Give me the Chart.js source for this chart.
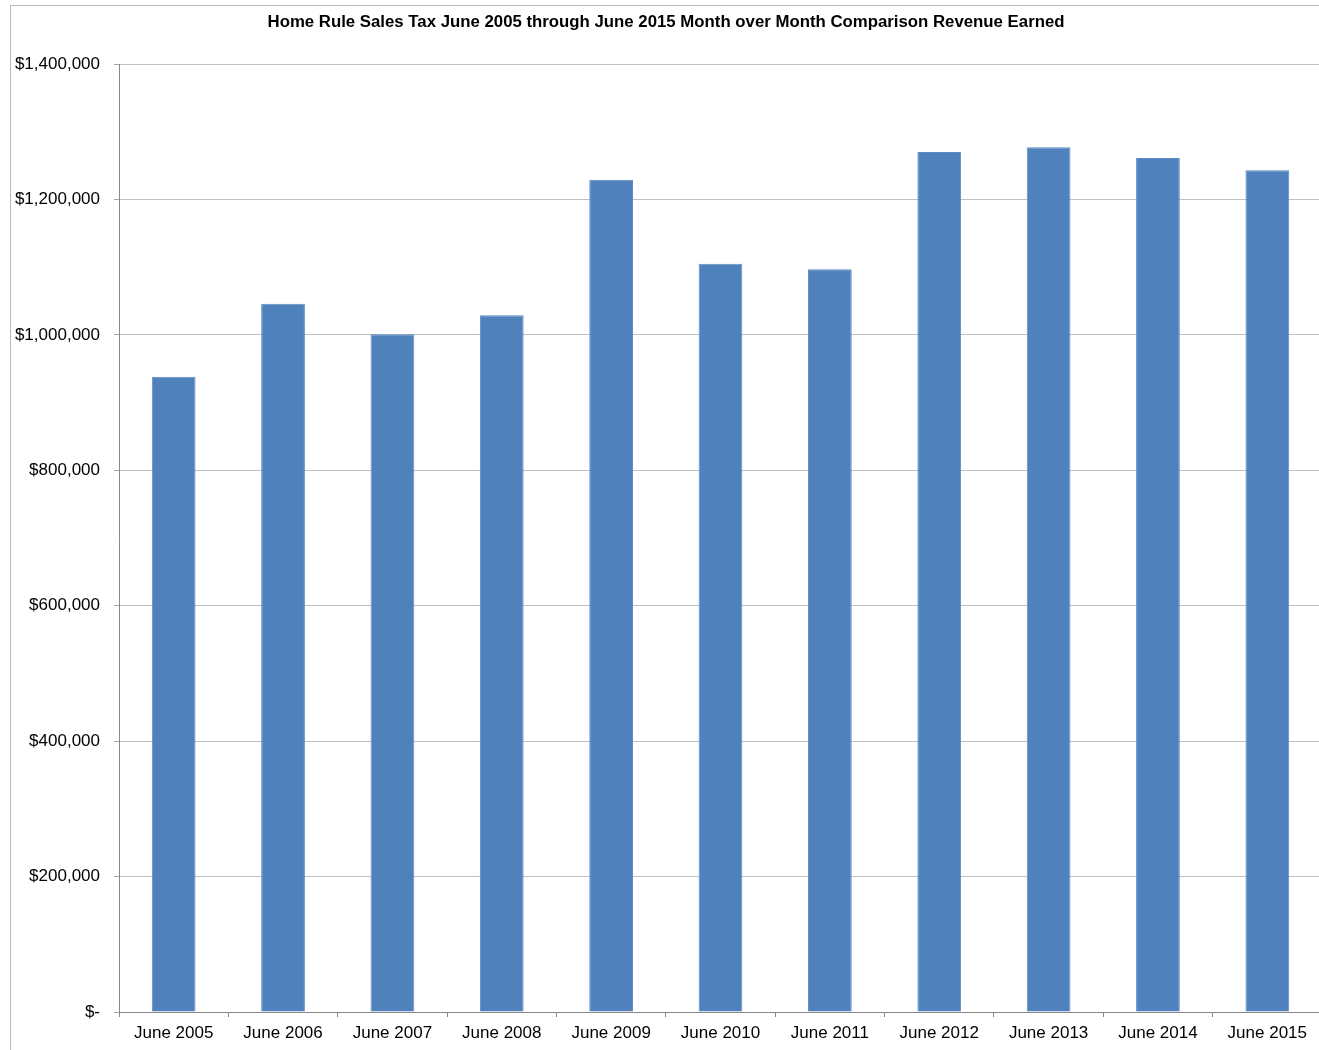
<!DOCTYPE html>
<html>
<head>
<meta charset="utf-8">
<title>Home Rule Sales Tax</title>
<script src="https://cdn.jsdelivr.net/npm/chart.js@4.4.1/dist/chart.umd.min.js"></script>
<style>
  html, body { margin: 0; padding: 0; background: #ffffff; overflow: hidden; }
  #wrap { width: 1322px; height: 1050px; position: relative; }
</style>
</head>
<body>
<div id="wrap"><canvas id="salesTax"></canvas></div>
<script>
const chartTitle = 'Home Rule Sales Tax June 2005 through June 2015 Month over Month Comparison Revenue Earned';

const months = ['June 2005', 'June 2006', 'June 2007', 'June 2008', 'June 2009', 'June 2010',
  'June 2011', 'June 2012', 'June 2013', 'June 2014', 'June 2015'];

const revenue = [938000, 1046000, 1001000, 1029000, 1229000, 1105000,
  1097000, 1270000, 1277000, 1261000, 1243000];

const yTicks = [0, 200000, 400000, 600000, 800000, 1000000, 1200000, 1400000];

const FONT = 'Liberation Sans, Arial, sans-serif';

// outer frame + title, drawn behind everything
const framePlugin = {
  id: 'frame',
  beforeDraw(chart) {
    const c = chart.ctx;
    c.save();
    c.fillStyle = '#ffffff';
    c.fillRect(0, 0, chart.width, chart.height);
    c.strokeStyle = '#b9b9b9';
    c.lineWidth = 1;
    c.strokeRect(10.5, 5.5, 1314, 1050);
    c.fillStyle = '#000000';
    c.font = 'bold 16.8px ' + FONT;
    c.textAlign = 'center';
    c.textBaseline = 'middle';
    c.fillText(chartTitle, 666, 22);
    c.restore();
  }
};

const fmtMoney = (v) => v === 0 ? '$-' : '$' + v.toLocaleString('en-US');

new Chart(document.getElementById('salesTax'), {
  type: 'bar',
  data: {
    labels: months,
    datasets: [{
      label: 'Revenue Earned',
      data: revenue,
      backgroundColor: '#4f81bd',
      borderColor: '#5f8cc4',
      borderWidth: 1,
      barPercentage: 0.8,
      categoryPercentage: 0.5,
    }]
  },
  options: {
    responsive: true,
    maintainAspectRatio: false,
    animation: false,
    devicePixelRatio: 1,
    layout: { padding: { top: 64, left: 0, right: 0, bottom: 0 } },
    plugins: {
      legend: { display: false },
      title: { display: false },
      tooltip: { enabled: false }
    },
    scales: {
      x: {
        offset: true,
        grid: {
          offset: true,
          drawOnChartArea: false,
          drawTicks: true,
          tickLength: 5,
          color: '#868686'
        },
        border: { color: '#868686', width: 1 },
        ticks: {
          color: '#000000',
          font: { family: FONT, size: 17 },
          padding: 6,
          maxRotation: 0
        },
        afterFit: (scale) => { scale.height = 38; }
      },
      y: {
        min: 0,
        max: 1400000,
        afterBuildTicks: (scale) => { scale.ticks = yTicks.map(v => ({ value: v })); },
        grid: {
          color: '#c0c0c0',
          tickColor: '#a6a6a6',
          tickLength: 5,
          drawTicks: true
        },
        border: { color: '#868686', width: 1 },
        ticks: {
          color: '#000000',
          font: { family: FONT, size: 17 },
          padding: 14,
          callback: (v) => fmtMoney(v)
        },
        afterFit: (scale) => { scale.width = 119; }
      }
    }
  },
  plugins: [framePlugin]
});
</script>
</body>
</html>
